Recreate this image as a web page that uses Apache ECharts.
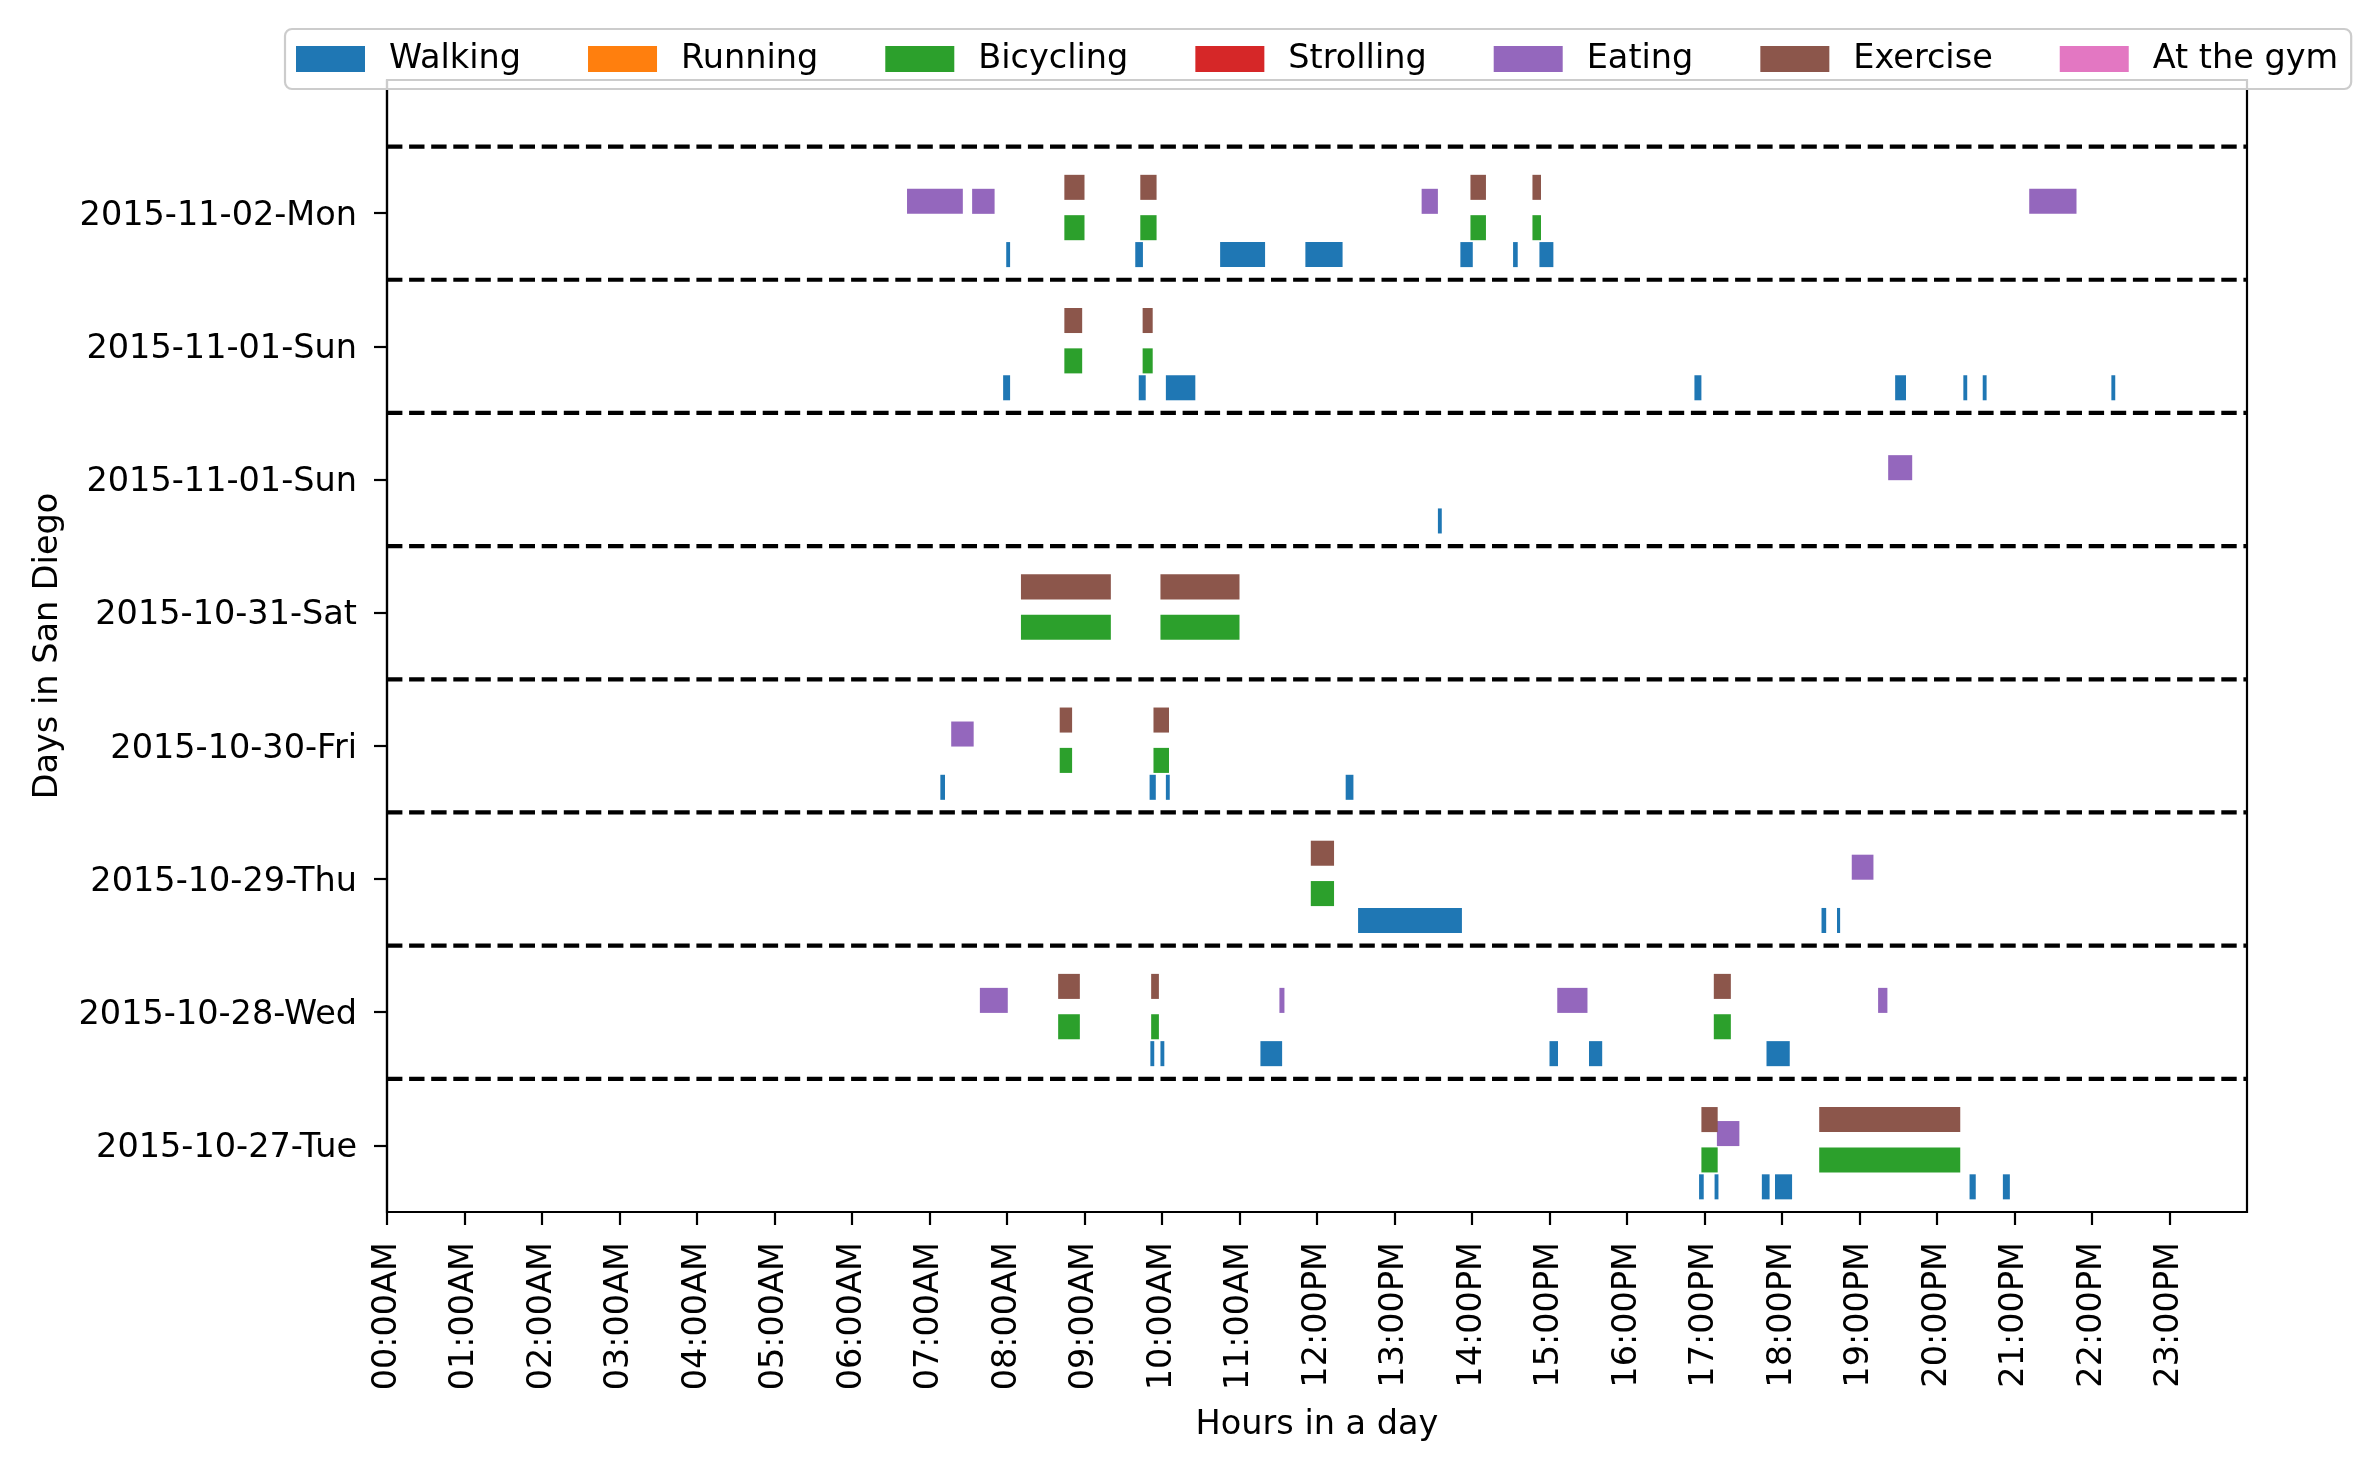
<!DOCTYPE html>
<html>
<head>
<meta charset="utf-8">
<script src="https://cdn.jsdelivr.net/npm/echarts@6/dist/echarts.min.js"></script>
<style>
html,body{margin:0;padding:0;background:#fff;}
#chart{width:2378px;height:1469px;}
</style>
</head>
<body>
<div id="chart"></div>
<script>
// Day labels, index 0 = bottom row
const dayLabels = ['2015-10-27-Tue','2015-10-28-Wed','2015-10-29-Thu','2015-10-30-Fri','2015-10-31-Sat','2015-11-01-Sun','2015-11-01-Sun','2015-11-02-Mon'];
const hourLabels = ['00:00AM','01:00AM','02:00AM','03:00AM','04:00AM','05:00AM','06:00AM','07:00AM','08:00AM','09:00AM','10:00AM','11:00AM','12:00PM','13:00PM','14:00PM','15:00PM','16:00PM','17:00PM','18:00PM','19:00PM','20:00PM','21:00PM','22:00PM','23:00PM'];
const activities = ['Walking','Running','Bicycling','Strolling','Eating','Exercise','At the gym'];

// [dayIndex, startHour, endHour]
const walking = [
  [7,7.99,8.04],[7,9.655,9.754],[7,10.75,11.33],[7,11.85,12.33],[7,13.85,14.01],[7,14.53,14.59],[7,14.87,15.05],
  [6,7.95,8.04],[6,9.70,9.79],[6,10.05,10.43],[6,16.87,16.96],[6,19.46,19.60],[6,20.34,20.39],[6,20.59,20.64],[6,22.25,22.30],
  [5,13.56,13.61],
  [3,7.14,7.20],[3,9.84,9.92],[3,10.05,10.10],[3,12.37,12.47],
  [2,12.53,13.87],[2,18.51,18.57],[2,18.71,18.75],
  [1,9.85,9.90],[1,9.98,10.03],[1,11.27,11.55],[1,15.00,15.11],[1,15.51,15.68],[1,17.80,18.10],
  [0,16.93,16.99],[0,17.13,17.18],[0,17.74,17.84],[0,17.91,18.13],[0,20.42,20.50],[0,20.85,20.94]
];
const running = [];
const bicycling = [
  [7,8.74,9.00],[7,9.72,9.93],[7,13.98,14.18],[7,14.78,14.89],
  [6,8.74,8.97],[6,9.75,9.88],
  [4,8.18,9.34],[4,9.98,11.00],
  [3,8.68,8.84],[3,9.89,10.09],
  [2,11.92,12.22],
  [1,8.66,8.94],[1,9.86,9.96],[1,17.12,17.34],
  [0,16.96,17.17],[0,18.48,20.30]
];
const strolling = [];
const eating = [
  [7,6.71,7.43],[7,7.55,7.84],[7,13.35,13.56],[7,21.19,21.80],
  [5,19.37,19.68],
  [3,7.28,7.57],
  [2,18.90,19.18],
  [1,7.65,8.01],[1,11.515,11.58],[1,15.10,15.49],[1,19.24,19.36],
  [0,17.16,17.45]
];
const exercise = [
  [7,8.74,9.00],[7,9.72,9.93],[7,13.98,14.18],[7,14.78,14.89],
  [6,8.74,8.97],[6,9.75,9.88],
  [4,8.18,9.34],[4,9.98,11.00],
  [3,8.68,8.84],[3,9.89,10.09],
  [2,11.92,12.22],
  [1,8.66,8.94],[1,9.86,9.96],[1,17.12,17.34],
  [0,16.96,17.17],[0,18.48,20.30]
];
const atTheGym = [];
const dividers = [0.5,1.5,2.5,3.5,4.5,5.5,6.5,7.5];

const FONT = 'DejaVu Sans';
const colors = ['#1f77b4','#ff7f0e','#2ca02c','#d62728','#9467bd','#8c564b','#e377c2'];
const dataSets = [walking, running, bicycling, strolling, eating, exercise, atTheGym];
// vertical placement of each activity within a day row: [offset, height]
const place = {
  'Walking':[-0.405,0.188], 'Running':[-0.3,0.188], 'Bicycling':[-0.203,0.188], 'Strolling':[-0.1,0.188],
  'Eating':[-0.005,0.188], 'Exercise':[0.1,0.188], 'At the gym':[0.2,0.188]
};

function barRender(off, h){
  return function(params, api){
    const y = api.value(0), s = api.value(1), e = api.value(2);
    const p1 = api.coord([s, y + off + h]);
    const p2 = api.coord([e, y + off]);
    return {type:'rect', shape:{x:p1[0], y:p1[1], width:p2[0]-p1[0], height:p2[1]-p1[1]},
      style:{fill: api.visual('color')}};
  };
}

const series = activities.map((name, i) => ({
  name: name,
  type: 'custom',
  itemStyle: {color: colors[i]},
  renderItem: barRender(place[name][0], place[name][1]),
  encode: {x:[1,2], y:0},
  data: dataSets[i],
  z: 3
}));

series.unshift({
  name: 'dividers',
  type: 'custom',
  silent: true,
  data: dividers.map(v => [v]),
  encode: {y:0},
  renderItem: function(params, api){
    const y = api.value(0);
    const a = api.coord([0, y]);
    const b = api.coord([24, y]);
    return {type:'line', shape:{x1:a[0], y1:a[1], x2:b[0], y2:a[1]},
      style:{stroke:'#000', lineWidth:4.2, lineDash:[15.4,6.7]}};
  },
  z: 2
});

const chart = echarts.init(document.getElementById('chart'), null, {renderer:'canvas'});
chart.setOption({
  animation: false,
  backgroundColor: '#fff',
  textStyle: {fontFamily: FONT},
  grid: {left:387, right:131, top:80, bottom:257, show:true, borderColor:'#000', borderWidth:2.2, backgroundColor:'transparent'},
  legend: {
    data: activities.map(a => ({name:a, icon:'rect'})),
    left: 285, top: 29,
    width: 2070,
    orient: 'horizontal',
    itemWidth: 69, itemHeight: 26,
    itemGap: 67,
    padding: [13, 13, 13, 11],
    borderColor: '#cccccc', borderWidth: 2.2, borderRadius: 7,
    backgroundColor: 'rgba(255,255,255,0.8)',
    selectedMode: false,
    textStyle: {fontFamily: FONT, fontSize: 33.5, color:'#000', padding:[0,0,0,19], lineHeight: 33},
    z: 10
  },
  xAxis: {
    type: 'value', min: 0, max: 24,
    name: 'Hours in a day', nameLocation: 'middle', nameGap: 196,
    nameTextStyle: {fontFamily: FONT, fontSize: 33.5, color:'#000'},
    axisLine: {show:true, onZero:false, lineStyle:{color:'#000', width:2.2}},
    axisTick: {show:true, inside:false, length:13, lineStyle:{color:'#000', width:2.2}, customValues: hourLabels.map((_, i) => i)},
    axisLabel: {show:true, rotate:90, margin:30, fontFamily: FONT, fontSize: 33.5, color:'#000',
      customValues: hourLabels.map((_, i) => i),
      formatter: v => hourLabels[Math.round(v)]},
    splitLine: {show:false}
  },
  yAxis: {
    type: 'value', min: -0.5, max: 8,
    name: 'Days in San Diego', nameLocation: 'middle', nameGap: 322,
    nameTextStyle: {fontFamily: FONT, fontSize: 33.5, color:'#000'},
    axisLine: {show:true, onZero:false, lineStyle:{color:'#000', width:2.2}},
    axisTick: {show:true, inside:false, length:13, lineStyle:{color:'#000', width:2.2}, customValues: dayLabels.map((_, i) => i)},
    axisLabel: {show:true, margin:30, fontFamily: FONT, fontSize: 33.5, color:'#000',
      customValues: dayLabels.map((_, i) => i),
      formatter: v => '{d|' + dayLabels[Math.round(v)] + '}',
      rich: {d: {fontFamily: FONT, fontSize: 33.5, color:'#000', lineHeight: 40, padding:[6,0,0,0]}}},
    splitLine: {show:false}
  },
  series: series
});
</script>
</body>
</html>
